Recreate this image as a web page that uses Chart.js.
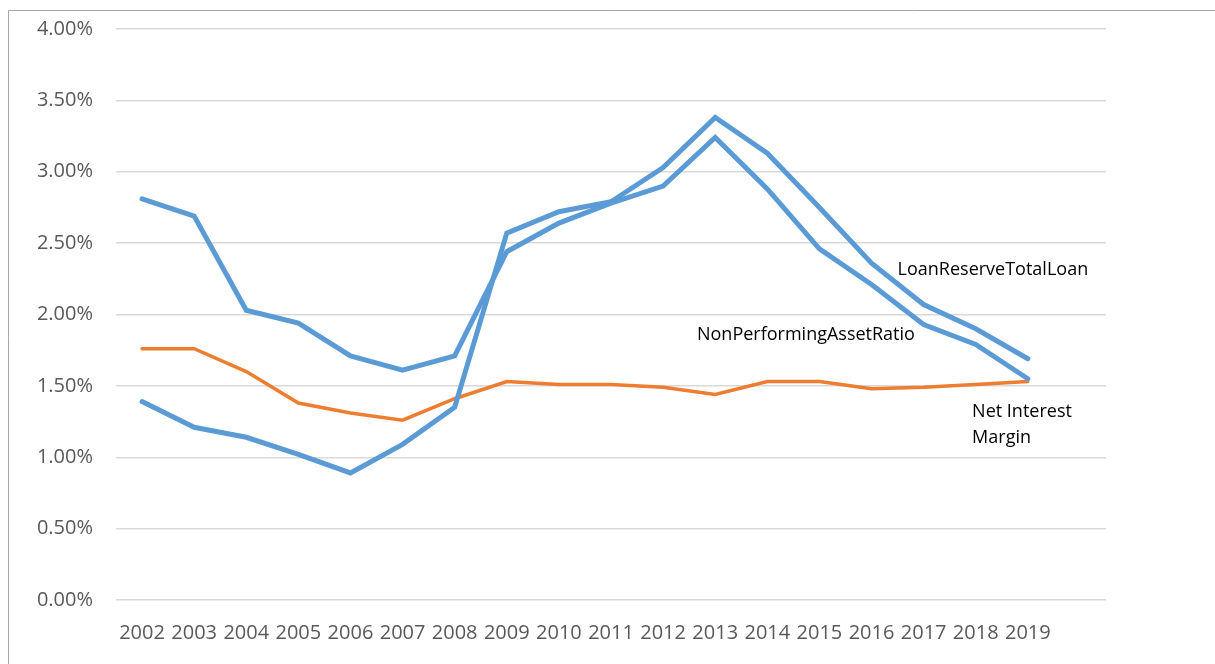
<!DOCTYPE html>
<html>
<head>
<meta charset="utf-8">
<script src="https://cdn.jsdelivr.net/npm/chart.js@4/dist/chart.umd.min.js"></script>
<style>
  html, body { margin: 0; padding: 0; background: #fff; }
  #wrap { width: 1215px; height: 664px; position: relative; }
</style>
</head>
<body>
<div id="wrap"><canvas id="myChart"></canvas></div>
<script>
// Setup
const years = ['2002', '2003', '2004', '2005', '2006', '2007', '2008', '2009', '2010', '2011',
  '2012', '2013', '2014', '2015', '2016', '2017', '2018', '2019', ''];
const loanReserveTotalLoan = [1.39, 1.21, 1.14, 1.02, 0.89, 1.09, 1.35, 2.57, 2.72, 2.79,
  3.03, 3.38, 3.13, 2.75, 2.36, 2.07, 1.90, 1.69, null];
const nonPerformingAssetRatio = [2.81, 2.69, 2.03, 1.94, 1.71, 1.61, 1.71, 2.44, 2.64, 2.78,
  2.90, 3.24, 2.88, 2.46, 2.21, 1.93, 1.79, 1.55, null];
const netInterestMargin = [1.76, 1.76, 1.60, 1.38, 1.31, 1.26, 1.41, 1.53, 1.51, 1.51,
  1.49, 1.44, 1.53, 1.53, 1.48, 1.49, 1.51, 1.53, null];
const yTicks = [0, 0.5, 1, 1.5, 2, 2.5, 3, 3.5, 4];

// series name labels, placed in data units (category index, value)
const seriesLabels = [
  { text: ['LoanReserveTotalLoan'], x: 14.5, y: 2.315 },
  { text: ['NonPerformingAssetRatio'], x: 10.65, y: 1.855 },
  { text: ['Net Interest', 'Margin'], x: 15.93, y: 1.32 },
];

const labelPlugin = {
  id: 'seriesLabels',
  beforeDraw(chart) {
    const ctx = chart.ctx;
    ctx.save();
    ctx.strokeStyle = '#a6a6a6';
    ctx.lineWidth = 1;
    ctx.beginPath();
    ctx.moveTo(8.5, chart.height);
    ctx.lineTo(8.5, 10.5);
    ctx.lineTo(chart.width, 10.5);
    ctx.stroke();
    ctx.restore();
  },
  afterDatasetsDraw(chart) {
    const ctx = chart.ctx;
    const xs = chart.scales.x;
    const ys = chart.scales.y;
    ctx.save();
    ctx.fillStyle = '#000';
    ctx.font = '18px "Open Sans"';
    ctx.textBaseline = 'middle';
    seriesLabels.forEach(function (l) {
      const step = xs.getPixelForValue(1) - xs.getPixelForValue(0);
      const px = xs.getPixelForValue(0) + l.x * step;
      const py = ys.getPixelForValue(l.y);
      for (let i = 0; i < l.text.length; i++) {
        ctx.fillText(l.text[i], px, py + i * 26);
      }
    });
    ctx.restore();
  },
};

const data = {
  labels: years,
  datasets: [
    {
      label: 'LoanReserveTotalLoan',
      data: loanReserveTotalLoan,
      borderColor: '#5b9bd5',
      borderWidth: 5,
      pointRadius: 0,
      tension: 0,
      borderCapStyle: 'round',
    },
    {
      label: 'NonPerformingAssetRatio',
      data: nonPerformingAssetRatio,
      borderColor: '#5b9bd5',
      borderWidth: 5,
      pointRadius: 0,
      tension: 0,
      borderCapStyle: 'round',
    },
    {
      label: 'Net Interest Margin',
      data: netInterestMargin,
      borderColor: '#ed7d31',
      borderWidth: 3.5,
      pointRadius: 0,
      tension: 0,
      borderCapStyle: 'round',
    },
  ],
};

// Config block
const config = {
  type: 'line',
  data,
  options: {
    responsive: false,
    animation: false,
    layout: { padding: { left: 0, top: 24, right: 109, bottom: 0 } },
    plugins: { legend: { display: false }, tooltip: { enabled: false } },
    scales: {
      x: {
        offset: true,
        grid: { display: false },
        border: { display: false },
        ticks: { color: '#595959', font: { family: 'Open Sans', size: 20 }, padding: 13, maxRotation: 0, autoSkip: false },
        afterFit(scale) { scale.height = 64; },
      },
      y: {
        min: 0,
        max: 4,
        afterBuildTicks(scale) { scale.ticks = yTicks.map(function (v) { return { value: v }; }); },
        grid: { color: '#d9d9d9', lineWidth: 1.5, drawTicks: false },
        border: { display: false },
        ticks: {
          color: '#595959',
          font: { family: 'Open Sans', size: 20, lineHeight: 0.6 },
          padding: 23,
          callback: function (v) { return v.toFixed(2) + '%'; },
        },
        afterFit(scale) { scale.width = 116; },
      },
    },
  },
  plugins: [labelPlugin],
};

// init / render block
const canvas = document.getElementById('myChart');
canvas.width = 1215;
canvas.height = 664;
const myChart = new Chart(canvas, config);
</script>
</body>
</html>
